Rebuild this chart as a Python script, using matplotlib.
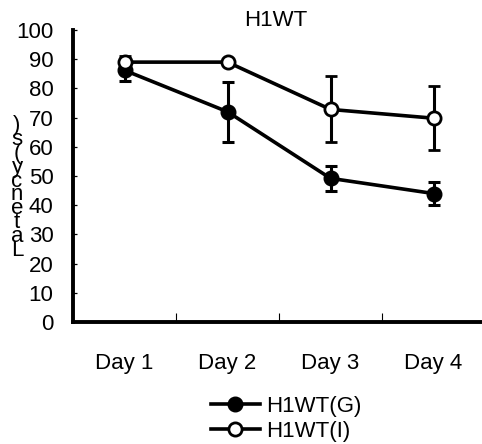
import matplotlib
matplotlib.use("Agg")
import matplotlib.pyplot as plt

plt.rcParams["font.family"] = ["Liberation Sans", "DejaVu Sans"]

days = ["Day 1", "Day 2", "Day 3", "Day 4"]
g_mean = [86.2, 72.0, 49.2, 44.0]
g_err = [3.7, 10.3, 4.3, 3.9]
i_mean = [89.0, 89.0, 72.8, 69.8]
i_err = [2.0, 1.0, 11.3, 10.9]
y_ticks = [0, 10, 20, 30, 40, 50, 60, 70, 80, 90, 100]


def main():
    fig = plt.figure(figsize=(4.82, 4.44), dpi=100)
    ax = fig.add_axes([73 / 482, 122 / 444, 412 / 482, 292 / 444])
    x = list(range(len(days)))

    ax.errorbar(x, g_mean, yerr=g_err, color="black", lw=2.6,
                marker="o", ms=10.5, mfc="black", mec="black",
                elinewidth=2.2, capsize=4, capthick=2.2, label="H1WT(G)")
    ax.errorbar(x, i_mean, yerr=i_err, color="black", lw=2.6,
                marker="o", ms=9.5, mfc="white", mec="black", mew=2,
                elinewidth=2.2, capsize=4, capthick=2.2, label="H1WT(I)")

    ax.set_xlim(-0.5, len(days) - 0.5)
    ax.set_ylim(0, 100)
    ax.set_yticks(y_ticks)
    ax.set_xticks(x)
    ax.set_xticklabels(days, fontsize=16)
    ax.set_xticks([0.5, 1.5, 2.5], minor=True)
    ax.tick_params(axis="x", which="major", length=0, pad=22)
    ax.tick_params(axis="x", which="minor", direction="in", length=6.5, width=0.8)
    ax.tick_params(axis="y", direction="in", length=3, width=0.9,
                   labelsize=16, pad=14)
    for s in ["top", "right"]:
        ax.spines[s].set_visible(False)
    for s in ["left", "bottom"]:
        ax.spines[s].set_linewidth(2.8)

    fig.text(276 / 482, 1 - 21 / 444, "H1WT", fontsize=16,
             ha="center", va="center")
    fig.text(17 / 482, 1 - 188 / 444, "\n".join(reversed("Latency(s)")),
             fontsize=16, ha="center", va="center", linespacing=0.56)

    h, l = ax.get_legend_handles_labels()
    h = [hh[0] for hh in h]
    fig.legend(h, l, loc="center left", bbox_to_anchor=(211 / 482, 1 - 419 / 444),
               frameon=False, fontsize=16, handlelength=2.2, handletextpad=0.3,
               labelspacing=0.2, borderpad=0, borderaxespad=0)

    fig.savefig("out.png", dpi=100)


if __name__ == "__main__":
    main()
